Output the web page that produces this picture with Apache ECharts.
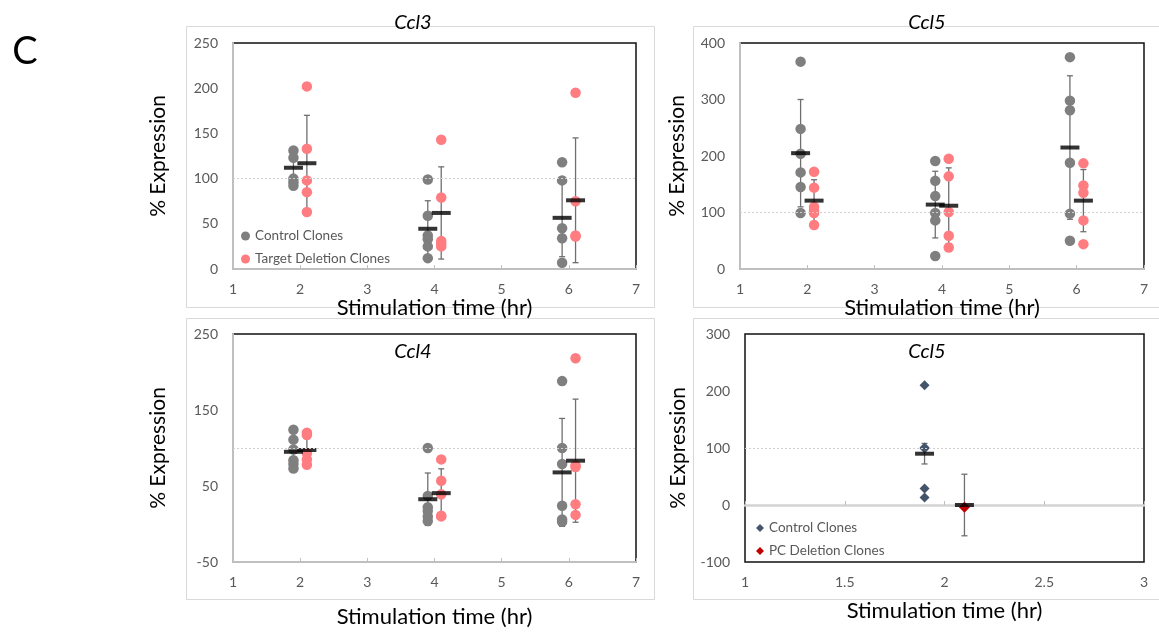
<!DOCTYPE html>
<html>
<head>
<meta charset="utf-8">
<script src="https://cdn.jsdelivr.net/npm/echarts@6/dist/echarts.min.js"></script>
<style>
html,body{margin:0;padding:0;background:#fff;}
#chart{width:1159px;height:635px;}
</style>
</head>
<body>
<div id="chart"></div>
<script>
// ---------- DATA ----------
const times = [2, 4, 6];
const pcTimes = [2];
const dodge = 0.1;

// Ccl3 (top-left)
const ccl3Control = [[131, 123, 100, 96, 92], [99, 59, 37, 33, 25, 12], [118, 98, 45, 34, 7]];
const ccl3Target = [[202, 133, 98, 85, 63], [143, 79, 31, 28, 25], [195, 75, 37, 36]];
const ccl3ControlMean = [112, 44.5, 56.6];
const ccl3ControlSD = [17, 31, 43];
const ccl3TargetMean = [117, 62, 76];
const ccl3TargetSD = [53, 51, 69];

// Ccl5 (top-right)
const ccl5Control = [[367, 248, 204, 171, 145, 99], [191, 156, 129, 99, 86, 23], [375, 298, 281, 188, 98, 50]];
const ccl5Target = [[172, 144, 110, 104, 99, 78], [195, 164, 101, 59, 38], [187, 148, 135, 86, 44]];
const ccl5ControlMean = [205, 114, 215];
const ccl5ControlSD = [95, 59, 127];
const ccl5TargetMean = [121, 112, 121];
const ccl5TargetSD = [37, 67, 55];

// Ccl4 (bottom-left)
const ccl4Control = [[124, 111, 98, 84, 79, 73], [100, 37, 22, 17, 10, 4], [188, 100, 79, 24, 6, 3]];
const ccl4Target = [[120, 117, 93, 85, 78], [85, 57, 39, 11, 10], [218, 77, 75, 26, 12]];
const ccl4ControlMean = [95, 32.6, 67.9];
const ccl4ControlSD = [19, 34.5, 71];
const ccl4TargetMean = [97.4, 40.6, 83.3];
const ccl4TargetSD = [19, 32, 81];

// Ccl5 PC deletion (bottom-right)
const pcControl = [[210, 101, 99, 29, 13]];
const pcDeletion = [[-4]];
const pcControlMean = [90];
const pcControlSD = [18];
const pcDeletionMean = [0];
const pcDeletionSD = [54];

const refLine = 100;

// ---------- STYLE ----------
const FONT = 'Lato, "Open Sans", sans-serif';
const GRAY = '#7f7f7f';
const SALMON = '#ff7c80';
const NAVY = '#44546a';
const DARKRED = '#c00000';
const LABEL = '#595959';

function points(tp, groups, off) {
  const out = [];
  groups.forEach((g, i) => g.forEach(v => out.push([tp[i] + off, v])));
  return out;
}
function stats(tp, means, sds, off) {
  return means.map((m, i) => [tp[i] + off, m, sds[i]]);
}

function errRender(params, api) {
  const x = api.value(0), m = api.value(1), s = api.value(2);
  const top = api.coord([x, m + s]);
  const bot = api.coord([x, m - s]);
  const cap = 3;
  const st = { stroke: '#6f6f6f', lineWidth: 1.3 };
  return {
    type: 'group',
    children: [
      { type: 'line', shape: { x1: top[0], y1: top[1], x2: bot[0], y2: bot[1] }, style: st },
      { type: 'line', shape: { x1: top[0] - cap, y1: top[1], x2: top[0] + cap, y2: top[1] }, style: st },
      { type: 'line', shape: { x1: bot[0] - cap, y1: bot[1], x2: bot[0] + cap, y2: bot[1] }, style: st }
    ]
  };
}

const grids = [
  { left: 233, top: 43, width: 403, height: 226 },
  { left: 740, top: 43, width: 404, height: 226 },
  { left: 233, top: 334, width: 403, height: 228 },
  { left: 745, top: 334, width: 399, height: 228 }
];

function xAx(gi, gap, extra) {
  return Object.assign({
    type: 'value', gridIndex: gi, min: 1, max: 7, interval: 1, position: 'bottom',
    name: 'Stimulation time (hr)', nameLocation: 'middle', nameGap: gap,
    nameTextStyle: { fontFamily: FONT, fontSize: 22, color: '#000' },
    axisLine: { onZero: false, lineStyle: { color: '#bfbfbf', width: 2 } },
    axisTick: { inside: true, length: 4, lineStyle: { color: '#bfbfbf' } },
    axisLabel: { fontFamily: FONT, fontSize: 14, color: LABEL, margin: 13 },
    splitLine: { show: false }
  }, extra || {});
}
function yAx(gi, min, max, interval, gap, extra) {
  return Object.assign({
    type: 'value', gridIndex: gi, min: min, max: max, interval: interval,
    name: '% Expression', nameLocation: 'middle', nameGap: gap, nameRotate: 90,
    nameTextStyle: { fontFamily: FONT, fontSize: 21, color: '#000' },
    axisLine: { show: true, lineStyle: { color: '#bfbfbf', width: 2 } },
    axisTick: { show: false },
    axisLabel: { fontFamily: FONT, fontSize: 14, color: LABEL, margin: 15 },
    splitLine: { show: false }
  }, extra || {});
}

function panelSeries(xi, yi, ctrlName, ctrlGroups, tgtName, tgtGroups, cMean, cSD, tMean, tSD, tp, cStyle, tStyle) {
  return [
    { type: 'custom', xAxisIndex: xi, yAxisIndex: yi, renderItem: errRender, data: stats(tp, cMean, cSD, -dodge), z: 2, silent: true,
      encode: { x: 0, y: 1 },
      markLine: { silent: true, symbol: 'none', label: { show: false },
        lineStyle: { color: '#d0d0d0', type: [2, 2], width: 1 }, data: [{ yAxis: refLine }] } },
    { type: 'custom', xAxisIndex: xi, yAxisIndex: yi, renderItem: errRender, data: stats(tp, tMean, tSD, dodge), z: 2, silent: true, encode: { x: 0, y: 1 } },
    Object.assign({ type: 'scatter', name: ctrlName, xAxisIndex: xi, yAxisIndex: yi, data: points(tp, ctrlGroups, -dodge), z: 3 }, cStyle),
    Object.assign({ type: 'scatter', name: tgtName, xAxisIndex: xi, yAxisIndex: yi, data: points(tp, tgtGroups, dodge), z: 3 }, tStyle),
    { type: 'scatter', xAxisIndex: xi, yAxisIndex: yi, symbol: 'rect', symbolSize: [19, 4], itemStyle: { color: '#000' }, z: 4, silent: true,
      data: stats(tp, cMean, cSD, -dodge).map(d => [d[0], d[1]]) },
    { type: 'scatter', xAxisIndex: xi, yAxisIndex: yi, symbol: 'rect', symbolSize: [19, 4], itemStyle: { color: '#000' }, z: 4, silent: true,
      data: stats(tp, tMean, tSD, dodge).map(d => [d[0], d[1]]) }
  ];
}

const dotC = { symbol: 'circle', symbolSize: 10.5, itemStyle: { color: GRAY, opacity: 1 } };
const dotT = { symbol: 'circle', symbolSize: 10.5, itemStyle: { color: SALMON, opacity: 1 } };
const diaC = { symbol: 'diamond', symbolSize: 10, itemStyle: { color: NAVY, opacity: 1 } };
const diaT = { symbol: 'diamond', symbolSize: 11, itemStyle: { color: DARKRED, opacity: 1 } };

const series = [].concat(
  panelSeries(0, 0, 'Control Clones', ccl3Control, 'Target Deletion Clones', ccl3Target, ccl3ControlMean, ccl3ControlSD, ccl3TargetMean, ccl3TargetSD, times, dotC, dotT),
  panelSeries(1, 1, 'Control Clones', ccl5Control, 'Target Deletion Clones', ccl5Target, ccl5ControlMean, ccl5ControlSD, ccl5TargetMean, ccl5TargetSD, times, dotC, dotT),
  panelSeries(2, 2, 'Control Clones', ccl4Control, 'Target Deletion Clones', ccl4Target, ccl4ControlMean, ccl4ControlSD, ccl4TargetMean, ccl4TargetSD, times, dotC, dotT),
  panelSeries(3, 3, 'Control Clones ', pcControl, 'PC Deletion Clones', pcDeletion, pcControlMean, pcControlSD, pcDeletionMean, pcDeletionSD, pcTimes, diaC, diaT)
);

const boxes = [
  [186, 26, 468, 281], [693, 26, 470, 281], [186, 318, 468, 281], [693, 318, 470, 281]
].map(b => ({ type: 'rect', shape: { x: b[0] + 0.5, y: b[1] + 0.5, width: b[2], height: b[3] },
  style: { fill: 'none', stroke: '#d9d9d9', lineWidth: 1 }, z: -10, silent: true }));

function titleText(t, x, y) {
  return { type: 'text', x: x, y: y, silent: true, z: 10,
    style: { text: t, fontFamily: FONT, fontSize: 20, fontStyle: 'italic', fill: '#000', align: 'center', verticalAlign: 'middle' } };
}

const option = {
  animation: false,
  backgroundColor: '#fff',
  grid: grids.map(g => Object.assign({ show: true, borderColor: '#111', borderWidth: 1.5, backgroundColor: 'transparent' }, g)),
  xAxis: [
    xAx(0, 28),
    xAx(1, 24),
    xAx(2, 44),
    xAx(3, 40, { min: 1, max: 3, interval: 0.5, name: '', axisLine: { onZero: true, lineStyle: { color: '#d4d4d4', width: 2.5 } },
      axisLabel: { show: false } }),
    xAx(3, 38, { min: 1, max: 3, interval: 0.5, axisLine: { show: false, onZero: false }, axisTick: { show: false } })
  ],
  yAxis: [
    yAx(0, 0, 250, 50, 64),
    yAx(1, 0, 400, 100, 52),
    yAx(2, -50, 250, 100, 64),
    yAx(3, -100, 300, 100, 56, { axisLine: { show: false } })
  ],
  legend: [
    { orient: 'vertical', left: 236, top: 224, itemGap: 9, itemWidth: 9, itemHeight: 9,
      textStyle: { fontFamily: FONT, fontSize: 13.5, color: LABEL },
      data: [{ name: 'Control Clones', icon: 'circle', itemStyle: { color: GRAY } },
             { name: 'Target Deletion Clones', icon: 'circle', itemStyle: { color: SALMON } }] },
    { orient: 'vertical', left: 751, top: 516, itemGap: 9, itemWidth: 8, itemHeight: 8,
      textStyle: { fontFamily: FONT, fontSize: 13.5, color: LABEL },
      formatter: n => n.trim(),
      data: [{ name: 'Control Clones ', icon: 'diamond', itemStyle: { color: NAVY } },
             { name: 'PC Deletion Clones', icon: 'diamond', itemStyle: { color: DARKRED } }] }
  ],
  graphic: boxes.concat([
    titleText('Ccl3', 413, 23),
    titleText('Ccl5', 927, 23),
    titleText('Ccl4', 413, 352),
    titleText('Ccl5', 927, 352),
    { type: 'text', x: 25, y: 52, silent: true,
      style: { text: 'C', fontFamily: FONT, fontSize: 38, fill: '#000', align: 'center', verticalAlign: 'middle' } }
  ]),
  series: series
};

const chart = echarts.init(document.getElementById('chart'), null, { renderer: 'canvas' });
chart.setOption(option);
</script>
</body>
</html>
